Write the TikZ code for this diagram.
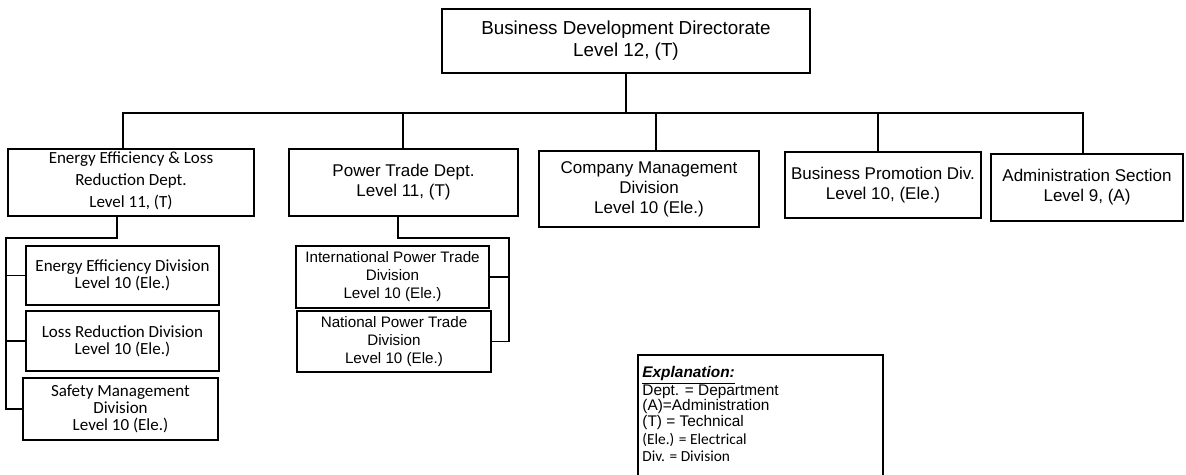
\documentclass[tikz,border=0pt]{standalone}
\usepackage{fontspec}
\setmainfont{Liberation Sans}
\newfontfamily\calfont{Carlito}
\tikzset{
  unit/.style={draw,line width=0.8pt,inner sep=0pt,align=center,
    font=\fontsize{8.5}{10}\selectfont},
  link/.style={line width=0.8pt},
}
\begin{document}
\begin{tikzpicture}[x=0.5pt,y=-0.5pt]
\useasboundingbox (0,0) rectangle (1186,475);
% directorate
\node[unit,minimum width=184pt,minimum height=32pt,
  font=\fontsize{9.4}{11}\selectfont](top) at (626,41)
  {Business Development Directorate\\Level 12, (T)};
% departments
\node[unit,minimum width=123pt,minimum height=33.5pt,
  font=\calfont\fontsize{8.5}{11}\selectfont](eel) at (131,182.5)
  {\\[-7pt]Energy Efficiency \& Loss\\Reduction Dept.\\Level 11, (T)};
\node[unit,minimum width=114.5pt,minimum height=33.5pt](ptd) at (403.5,182.5)
  {Power Trade Dept.\\Level 11, (T)};
\node[unit,minimum width=110pt,minimum height=38pt](cmd) at (649,189)
  {Company Management\\Division\\Level 10 (Ele.)};
\node[unit,minimum width=98pt,minimum height=33pt](bpd) at (883,185)
  {Business Promotion Div.\\Level 10, (Ele.)};
\node[unit,minimum width=96pt,minimum height=33.5pt](adm) at (1087,187.5)
  {Administration Section\\Level 9, (A)};
% divisions
\node[unit,minimum width=96.5pt,minimum height=29.5pt,
  font=\calfont\fontsize{8.5}{8.4}\selectfont](eed) at (122.5,275.5)
  {Energy Efficiency Division\\Level 10 (Ele.)};
\node[unit,minimum width=96.5pt,minimum height=30pt,
  font=\calfont\fontsize{8.5}{8.4}\selectfont](lrd) at (122.5,341)
  {Loss Reduction Division\\Level 10 (Ele.)};
\node[unit,minimum width=97.5pt,minimum height=31pt,
  font=\calfont\fontsize{8.5}{8.6}\selectfont](smd) at (120.5,409)
  {Safety Management\\Division\\Level 10 (Ele.)};
\node[unit,minimum width=96.5pt,minimum height=31pt,
  font=\fontsize{7.6}{9}\selectfont](ipt) at (392.5,277)
  {International Power Trade\\Division\\Level 10 (Ele.)};
\node[unit,minimum width=97pt,minimum height=30.5pt,
  font=\fontsize{7.6}{8.8}\selectfont](npt) at (394,341.5)
  {National Power Trade\\Division\\Level 10 (Ele.)};
% legend
\node[draw,line width=0.8pt,minimum width=122.5pt,minimum height=64pt,
  anchor=north west](expl) at (637,354) {};
\node[anchor=north west,align=left,inner sep=0pt,
  font=\fontsize{7.7}{7.5}\selectfont](legend) at (642,366)
  {{\bfseries\itshape\underline{Explanation:}}\\[-1pt]
  Dept. = Department\\
  (A)=Administration\\[0.8pt]
  (T) = Technical\\[1.5pt]
  {\calfont (Ele.) = Electrical}\\[1pt]
  {\calfont Div. = Division}};
% connectors
\coordinate (busL) at (123,113);
\coordinate (busR) at (1083,113);
\draw[link] (top.south) -- (top.south |- busL);
\draw[link] (eel.north -| busL) -- (busL) -- (busR) -- (adm.north -| busR);
\foreach \n/\x in {ptd/403,cmd/656,bpd/878}
  \draw[link] (\n.north -| \x,0) -- (\x,113);
\coordinate (eelbend) at (6,238);
\draw[link] (eel.south -| 117,0) |- (eelbend) |- (smd.west);
\foreach \n in {eed,lrd}
  \draw[link] (\n.west) -- (\n.west -| eelbend);
\coordinate (ptdbend) at (509,238);
\draw[link] (ptd.south -| 398,0) |- (ptdbend) |- (npt.east);
\draw[link] (ipt.east) -- (ipt.east -| ptdbend);
\end{tikzpicture}
\end{document}
